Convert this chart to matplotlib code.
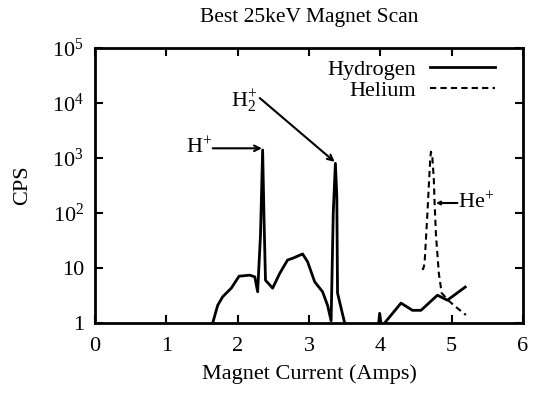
import matplotlib
matplotlib.use("Agg")
import matplotlib.pyplot as plt
import numpy as np

plt.rcParams['font.family'] = ['Liberation Serif', 'DejaVu Serif']
plt.rcParams['mathtext.fontset'] = 'custom'
plt.rcParams['mathtext.rm'] = 'Liberation Serif'
plt.rcParams['mathtext.it'] = 'Liberation Serif:italic'

# Hydrogen scan (two segments)
h1_x = [1.65, 1.72, 1.79, 1.91, 2.02, 2.17, 2.24, 2.28, 2.32, 2.35, 2.37, 2.39, 2.49, 2.59,
        2.70, 2.77, 2.91, 2.98, 3.08, 3.19, 3.26, 3.31, 3.34, 3.37, 3.39, 3.40, 3.50]
h1_y = [1.0, 2.1, 3.0, 4.3, 7.1, 7.4, 6.9, 3.7, 40, 1400, 75, 6.0, 4.3, 8.0,
        14, 15, 18, 13, 5.6, 3.7, 2.1, 1.1, 100, 800, 200, 3.5, 1.0]
h2_x = [3.97, 3.99, 4.02, 4.06, 4.29, 4.45, 4.57, 4.80, 4.94, 5.19]
h2_y = [0.8, 1.5, 0.8, 1.0, 2.3, 1.7, 1.7, 3.2, 2.6, 4.5]

# Helium scan
he_x = [4.59, 4.60, 4.62, 4.66, 4.70, 4.71, 4.73, 4.75, 4.76, 4.78, 4.82, 4.86, 4.95, 5.05, 5.20]
he_y = [10, 9.5, 12, 100, 1000, 1300, 1000, 400, 160, 40, 8, 3.5, 2.6, 2.0, 1.4]

x_ticks = [0, 1, 2, 3, 4, 5, 6]
y_ticks = [1, 10, 100, 1000, 10000, 100000]
y_labels = ['1', '10', r'$10^2$', r'$10^3$', r'$10^4$', r'$10^5$']

fig = plt.figure(figsize=(5.36, 3.95), dpi=100)
ax = fig.add_axes([95/536, 1-323/395, 428/536, 275/395])

lw = 2.0
ax.plot(h1_x, h1_y, color='black', lw=lw, label='Hydrogen')
ax.plot(h2_x, h2_y, color='black', lw=lw)
ax.plot(he_x, he_y, color='black', lw=1.5, ls=(0, (3, 2)), label='Helium')

ax.set_yscale('log')
ax.set_xlim(0, 6)
ax.set_ylim(1, 1e5)
ax.set_xticks(x_ticks)
ax.set_yticks(y_ticks)
ax.set_yticklabels(y_labels)
ax.minorticks_off()
ax.tick_params(direction='in', length=6, width=1.5, top=True, right=True,
               labelsize=16)
ax.tick_params(axis='x', pad=10)
ax.tick_params(axis='y', pad=8)
for s in ax.spines.values():
    s.set_linewidth(2)

ax.set_xlabel('Magnet Current (Amps)', fontsize=16, labelpad=6)
ax.set_ylabel('CPS', fontsize=16, labelpad=14)
ax.set_title('Best 25keV Magnet Scan', fontsize=15.5, pad=19)

arrow = dict(arrowstyle='->', color='black', lw=1.5, shrinkA=0, shrinkB=0)
ax.annotate('', xy=(2.34, 1500), xytext=(1.65, 1500), arrowprops=arrow)
ax.text(1.64, 1500, r'H$^{+}$', ha='right', va='center', fontsize=16)
ax.annotate('', xy=(3.36, 850), xytext=(2.31, 12300), arrowprops=arrow)
ax.text(2.28, 11000, r'H$_2^{+}$', ha='right', va='center', fontsize=16)
ax.annotate('', xy=(4.78, 152), xytext=(5.08, 152),
            arrowprops=dict(arrowstyle='-|>', color='black', lw=1.5, shrinkA=0, shrinkB=0,
                            mutation_scale=5))
ax.text(5.09, 152, r'He$^{+}$', ha='left', va='center', fontsize=16)

leg = ax.legend(loc='upper right', bbox_to_anchor=(0.935, 0.96), frameon=False,
                fontsize=16, markerfirst=False, handlelength=2.95, handletextpad=0.6,
                borderaxespad=0.0, borderpad=0.0, labelspacing=0.05)

fig.savefig('out.png', dpi=100)
